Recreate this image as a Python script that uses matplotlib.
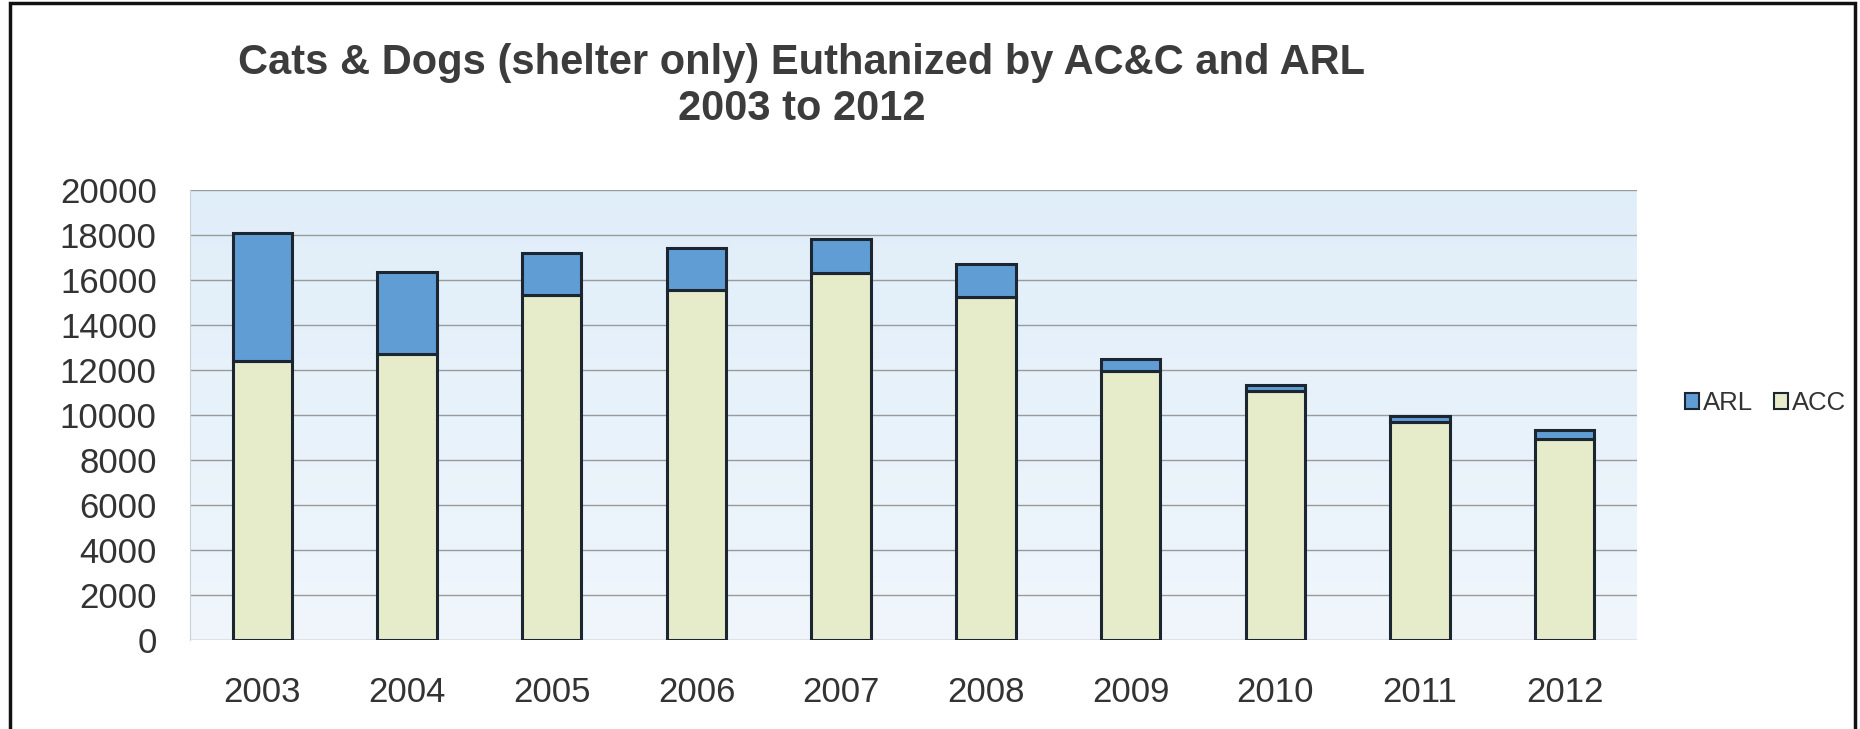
import numpy as np
import matplotlib
matplotlib.use("Agg")
import matplotlib.pyplot as plt
from matplotlib.patches import Rectangle

plt.rcParams['font.family'] = ['Liberation Sans', 'DejaVu Sans']

years = ["2003", "2004", "2005", "2006", "2007", "2008", "2009", "2010", "2011", "2012"]
acc = [12400, 12700, 15350, 15550, 16300, 15250, 11950, 11050, 9700, 8950]
arl = [5700, 3650, 1850, 1850, 1500, 1450, 550, 300, 250, 400]
yticks = [0, 2000, 4000, 6000, 8000, 10000, 12000, 14000, 16000, 18000, 20000]

col_arl = "#5f9dd4"
col_acc = "#e6ebca"
edge = "#1b2631"
txt = "#333333"

fig = plt.figure(figsize=(18.6, 7.29), dpi=100)
fig.patch.set_facecolor("white")

ax = fig.add_axes([190/1860, 89/729, 1447/1860, 450/729])

# pale blue gradient for the plot area
grad = np.linspace(0, 1, 256).reshape(-1, 1)
cmap = matplotlib.colors.LinearSegmentedColormap.from_list("bg", ["#f0f6fc", "#e0eef9"])
ax.imshow(grad, aspect="auto", cmap=cmap, origin="lower",
          extent=[-0.5, 9.5, 0, 20000], zorder=0)

x = np.arange(len(years))
ax.bar(x, acc, width=0.41, color=col_acc, edgecolor=edge, linewidth=2.2, label="ACC", zorder=3)
ax.bar(x, arl, width=0.41, bottom=acc, color=col_arl, edgecolor=edge, linewidth=2.2, label="ARL", zorder=3)

ax.set_xlim(-0.5, 9.5)
ax.set_ylim(0, 20000)
ax.set_yticks(yticks)
ax.set_yticklabels([str(v) for v in yticks])
ax.set_xticks(x)
ax.set_xticklabels(years)
ax.yaxis.grid(True, color="#9a9a9a", linewidth=1.0, zorder=1)
ax.set_axisbelow(True)
ax.tick_params(axis="both", length=0, labelsize=25, colors=txt)
ax.tick_params(axis="y", pad=24)
ax.tick_params(axis="x", pad=26)
for s in ax.spines.values():
    s.set_visible(False)
ax.spines["left"].set_visible(True)
ax.spines["left"].set_color("#c8d0d8")

# legend: ARL first, then ACC
h, l = ax.get_legend_handles_labels()
leg = fig.legend([h[1], h[0]], [l[1], l[0]], loc="center left",
                 bbox_to_anchor=(1662/1860, 0.447), ncol=2, frameon=False,
                 fontsize=18.5, handlelength=0.55, handleheight=0.55,
                 handletextpad=0.15, columnspacing=0.8, labelcolor=txt)
for p in leg.get_patches():
    p.set_linewidth(1.5)

fig.text(802/1860, 1 - 74/729, "Cats & Dogs (shelter only) Euthanized by AC&C and ARL",
         ha="center", va="baseline", fontsize=30, fontweight="bold", color="#3c3c3c")
fig.text(802/1860, 1 - 120/729, "2003 to 2012",
         ha="center", va="baseline", fontsize=30, fontweight="bold", color="#3c3c3c")

# chart border (bottom edge is cut off in the scan)
fig.patches.append(Rectangle((10/1860, -0.05), 1845/1860, 1.05 - 3/729,
                             transform=fig.transFigure, fill=False,
                             edgecolor="#111111", linewidth=2.5))

fig.savefig("out.png", dpi=100)
